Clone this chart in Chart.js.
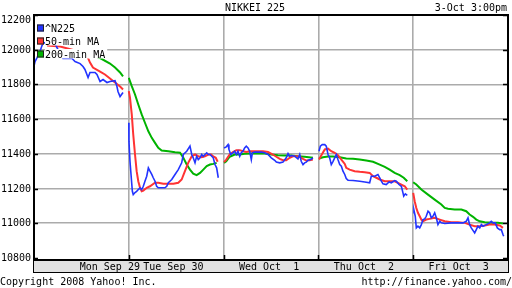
<!DOCTYPE html>
<html>
<head>
<meta charset="utf-8">
<script src="https://cdn.jsdelivr.net/npm/chart.js@4.4.0/dist/chart.umd.min.js"></script>
<style>
body { margin: 0; background: #fff; }
canvas { display: block; }
</style>
</head>
<body>
<canvas id="nikkeiChart" width="512" height="288"></canvas>
<script>
const dayLabels = ['Mon Sep 29', 'Tue Sep 30', 'Wed Oct  1', 'Thu Oct  2', 'Fri Oct  3'];
const yTicks = [10800, 11000, 11200, 11400, 11600, 11800, 12000, 12200];
const seriesNames = ['^N225', '50-min MA', '200-min MA'];

// Tokyo clock hours, one sub-array per trading day
const n225Hours = [
    [9.00, 9.07, 9.20, 9.41, 9.54, 9.61, 9.95, 10.28, 10.62, 10.96, 11.57, 11.77, 12.11, 12.31, 12.44, 12.65, 12.78, 13.12, 13.25, 13.46, 13.66, 13.93, 14.13, 14.47, 14.60, 14.67, 14.81, 15.01],
    [9.00, 9.01, 9.08, 9.15, 9.24, 9.30, 9.42, 9.53, 9.64, 9.76, 9.87, 9.98, 10.09, 10.21, 10.32, 10.43, 10.55, 10.65, 10.77, 10.88, 10.99, 11.22, 11.44, 11.56, 11.67, 11.90, 12.12, 12.34, 12.57, 12.68, 12.91, 13.13, 13.25, 13.35, 13.47, 13.58, 13.69, 13.81, 13.92, 14.03, 14.14, 14.26, 14.37, 14.48, 14.60, 14.70, 14.82, 14.93, 15.04],
    [9.03, 9.18, 9.30, 9.36, 9.48, 9.63, 9.75, 9.86, 9.97, 10.09, 10.19, 10.31, 10.42, 10.53, 10.65, 10.76, 10.87, 10.94, 11.10, 11.32, 11.54, 11.77, 12.00, 12.22, 12.45, 12.56, 12.79, 13.01, 13.23, 13.35, 13.46, 13.57, 13.80, 14.02, 14.14, 14.24, 14.36, 14.47, 14.58, 14.70, 14.88, 15.03],
    [9.04, 9.13, 9.26, 9.43, 9.53, 9.65, 9.76, 9.87, 9.99, 10.10, 10.21, 10.32, 10.44, 10.55, 10.66, 10.78, 10.88, 11.00, 11.34, 11.79, 12.13, 12.46, 12.57, 12.80, 13.02, 13.14, 13.25, 13.36, 13.58, 13.77, 13.92, 14.15, 14.26, 14.44, 14.60, 14.71, 14.76, 14.87, 15.00],
    [9.00, 9.05, 9.14, 9.21, 9.32, 9.44, 9.55, 9.66, 9.78, 9.88, 10.00, 10.11, 10.22, 10.33, 10.45, 10.56, 10.67, 10.79, 10.90, 11.13, 11.57, 12.02, 12.36, 12.58, 12.70, 12.81, 12.92, 13.15, 13.26, 13.37, 13.49, 13.60, 13.71, 13.93, 14.16, 14.27, 14.39, 14.54, 14.68, 14.84, 14.95, 15.06, 15.11]
];
const n225Values = [
    [11905, 11932, 11953, 11991, 12024, 12036, 12048, 12059, 12001, 11949, 11949, 11932, 11920, 11903, 11886, 11840, 11869, 11869, 11857, 11817, 11828, 11811, 11817, 11822, 11788, 11759, 11730, 11753],
    [11579, 11473, 11357, 11281, 11184, 11165, 11177, 11184, 11194, 11204, 11194, 11213, 11242, 11271, 11319, 11300, 11281, 11262, 11242, 11213, 11204, 11204, 11204, 11213, 11233, 11252, 11281, 11309, 11348, 11396, 11415, 11444, 11396, 11377, 11348, 11386, 11367, 11377, 11396, 11386, 11396, 11406, 11396, 11396, 11386, 11377, 11338, 11319, 11262],
    [11434, 11440, 11453, 11425, 11396, 11406, 11415, 11396, 11415, 11386, 11406, 11415, 11434, 11444, 11434, 11415, 11367, 11406, 11410, 11410, 11410, 11406, 11396, 11377, 11363, 11352, 11348, 11352, 11377, 11402, 11386, 11390, 11386, 11371, 11396, 11357, 11338, 11348, 11352, 11363, 11367, 11377],
    [11415, 11444, 11453, 11453, 11444, 11396, 11377, 11338, 11357, 11377, 11396, 11367, 11338, 11329, 11300, 11281, 11258, 11248, 11246, 11242, 11238, 11233, 11271, 11271, 11281, 11262, 11242, 11227, 11223, 11238, 11233, 11246, 11242, 11223, 11213, 11175, 11156, 11169, 11161],
    [11060, 11075, 11040, 10973, 10983, 10973, 10992, 11021, 11025, 11040, 11069, 11060, 11031, 11040, 11060, 11031, 10992, 11011, 11002, 10998, 11002, 11002, 11002, 11011, 11031, 10992, 10973, 10944, 10963, 10983, 10973, 10992, 10983, 10992, 11002, 11011, 11002, 11002, 10973, 10963, 10963, 10935, 10925]
];

const ma50Hours = [
    [9.88, 10.76, 11.77, 12.58, 12.78, 12.98, 13.46, 13.79, 14.13, 14.47, 14.81, 15.01],
    [9.00, 9.08, 9.20, 9.30, 9.42, 9.53, 9.64, 9.76, 9.87, 9.98, 10.21, 10.43, 10.77, 10.99, 11.33, 11.67, 12.01, 12.34, 12.57, 12.79, 13.01, 13.25, 13.47, 13.69, 13.92, 14.14, 14.37, 14.55, 14.70, 14.87, 15.00],
    [9.03, 9.18, 9.41, 9.63, 9.86, 10.09, 10.31, 10.53, 10.76, 10.98, 11.32, 11.66, 12.00, 12.33, 12.56, 12.79, 13.01, 13.23, 13.46, 13.68, 13.91, 14.14, 14.36, 14.58, 14.81, 15.03],
    [9.04, 9.20, 9.43, 9.65, 9.87, 10.10, 10.32, 10.55, 10.78, 10.88, 11.11, 11.45, 11.79, 12.13, 12.46, 12.69, 12.91, 13.14, 13.48, 13.81, 14.15, 14.37, 14.60, 14.83, 15.00],
    [9.00, 9.10, 9.21, 9.32, 9.44, 9.55, 9.66, 9.88, 10.11, 10.45, 10.79, 11.13, 11.57, 12.02, 12.48, 12.81, 13.15, 13.49, 13.83, 14.16, 14.50, 14.84, 15.06]
];
const ma50Values = [
    [12024, 12018, 11995, 11966, 11926, 11897, 11874, 11857, 11834, 11811, 11788, 11771],
    [11761, 11723, 11627, 11511, 11396, 11300, 11242, 11204, 11184, 11188, 11204, 11213, 11233, 11233, 11227, 11227, 11227, 11233, 11252, 11300, 11348, 11386, 11396, 11386, 11380, 11386, 11396, 11396, 11386, 11377, 11354],
    [11352, 11367, 11396, 11410, 11421, 11421, 11415, 11410, 11415, 11415, 11415, 11415, 11410, 11396, 11383, 11371, 11363, 11363, 11377, 11386, 11386, 11383, 11371, 11361, 11363, 11367],
    [11367, 11392, 11425, 11430, 11415, 11406, 11392, 11367, 11342, 11319, 11309, 11300, 11296, 11294, 11290, 11271, 11262, 11252, 11242, 11242, 11242, 11233, 11223, 11213, 11194],
    [11175, 11127, 11088, 11060, 11040, 11021, 11011, 11021, 11025, 11031, 11021, 11011, 11006, 11006, 11002, 10992, 10983, 10983, 10987, 10992, 10992, 10987, 10973]
];

const ma200Hours = [
    [10.08, 11.43, 12.78, 13.46, 14.13, 14.47, 14.81, 15.01],
    [9.00, 9.20, 9.42, 9.64, 9.87, 10.09, 10.32, 10.55, 10.77, 10.99, 11.22, 11.67, 12.12, 12.46, 12.68, 12.91, 13.13, 13.35, 13.58, 13.81, 14.03, 14.26, 14.48, 14.70, 14.93],
    [9.03, 9.18, 9.41, 9.75, 10.09, 10.42, 10.87, 11.32, 11.77, 12.22, 12.67, 13.12, 13.57, 14.02, 14.47, 15.03],
    [9.04, 9.31, 9.65, 9.99, 10.44, 10.88, 11.34, 11.79, 12.23, 12.69, 13.14, 13.48, 13.81, 14.15, 14.49, 14.76, 15.00],
    [9.00, 9.21, 9.55, 10.00, 10.45, 10.90, 11.13, 11.35, 11.80, 12.25, 12.58, 12.81, 13.04, 13.26, 13.49, 13.83, 14.27, 14.72, 15.06]
];
const ma200Values = [
    [11988, 11980, 11970, 11952, 11920, 11897, 11869, 11846],
    [11838, 11790, 11742, 11684, 11627, 11579, 11530, 11492, 11463, 11434, 11419, 11415, 11409, 11406, 11377, 11338, 11309, 11286, 11277, 11290, 11309, 11329, 11338, 11342, 11348],
    [11348, 11357, 11383, 11396, 11396, 11400, 11402, 11402, 11402, 11396, 11392, 11390, 11390, 11386, 11383, 11377],
    [11373, 11380, 11384, 11384, 11380, 11373, 11371, 11367, 11361, 11354, 11338, 11325, 11309, 11290, 11277, 11262, 11242],
    [11236, 11223, 11194, 11165, 11136, 11108, 11088, 11083, 11079, 11079, 11069, 11050, 11037, 11021, 11011, 11006, 11002, 11002, 10998]
];

const seriesColors = ['#2233ff', '#ff3333', '#00b300'];
const FONT = '10px "DejaVu Sans Mono", monospace';

// each day slot on the axis runs 9:00 to 15:24
function buildPoints(hours, values) {
    const pts = [];
    hours.forEach((day, d) => {
        day.forEach((h, i) => pts.push({ x: d + (h - 9) / 6.4, y: values[d][i] }));
        pts.push({ x: d + 0.97, y: null });
    });
    return pts;
}

const yahooDecor = {
    id: 'yahooDecor',
    beforeDraw(chart) {
        const ctx = chart.ctx;
        ctx.save();
        ctx.fillStyle = '#fff';
        ctx.fillRect(0, 0, chart.width, chart.height);
        ctx.restore();
    },
    afterDatasetsDraw(chart) {
        // legend, white behind the text rows
        const ctx = chart.ctx;
        ctx.save();
        ctx.font = FONT;
        ctx.textBaseline = 'middle';
        seriesNames.forEach((name, i) => {
            const cy = 27.5 + i * 13;
            const w = ctx.measureText(name).width;
            ctx.fillStyle = '#fff';
            ctx.fillRect(45, cy - 4.5, w + 2, 9.5);
            ctx.fillStyle = seriesColors[i];
            ctx.fillRect(37, cy - 3, 7, 7);
            ctx.strokeStyle = '#222';
            ctx.lineWidth = 1;
            ctx.strokeRect(37.5, cy - 2.5, 6, 6);
            ctx.fillStyle = '#000';
            ctx.fillText(name, 45, cy + 1.5);
        });
        ctx.restore();
    },
    afterDraw(chart) {
        const ctx = chart.ctx;
        const { left, right, top, bottom } = chart.chartArea;
        const xs = chart.scales.x, ys = chart.scales.y;
        ctx.save();

        // date band under the plot
        ctx.fillStyle = '#e2e2e2';
        ctx.fillRect(left, bottom, right - left, 12.5);
        ctx.strokeStyle = '#000';
        ctx.lineWidth = 1;
        ctx.strokeRect(left - 0.5, bottom + 0.5, right - left + 1, 12);

        // frame
        ctx.lineWidth = 2;
        ctx.strokeRect(left, top, right - left, bottom - top);

        // tick marks inside the frame
        ctx.lineWidth = 1.5;
        ctx.beginPath();
        yTicks.forEach(v => {
            const y = Math.round(ys.getPixelForValue(v)) + 0.5;
            ctx.moveTo(left, y); ctx.lineTo(left + 4, y);
            ctx.moveTo(right - 5, y); ctx.lineTo(right, y);
        });
        [1, 2, 3, 4].forEach(d => {
            const x = Math.round(xs.getPixelForValue(d)) + 0.5;
            ctx.moveTo(x, bottom); ctx.lineTo(x, bottom - 5);
        });
        ctx.stroke();

        ctx.font = FONT;
        ctx.fillStyle = '#000';
        ctx.textBaseline = 'middle';

        // value labels
        ctx.textAlign = 'right';
        yTicks.forEach(v => {
            const y = Math.max(ys.getPixelForValue(v), 20);
            ctx.fillText(String(v), 31, y + 0.5);
        });

        // day labels
        const labelAt = [0.8, 1.47, 2.48, 3.48, 4.48];
        ctx.textAlign = 'center';
        dayLabels.forEach((lab, d) => {
            ctx.fillText(lab, xs.getPixelForValue(labelAt[d]), bottom + 7);
        });

        // title and footer
        ctx.fillText('NIKKEI 225', 255, 8);
        ctx.textAlign = 'right';
        ctx.fillText('3-Oct 3:00pm', 507, 8);
        ctx.fillText('http://finance.yahoo.com/', 512, 282);
        ctx.textAlign = 'left';
        ctx.fillText('Copyright 2008 Yahoo! Inc.', 0, 282);
        ctx.restore();
    }
};

new Chart(document.getElementById('nikkeiChart'), {
    type: 'line',
    data: {
        datasets: [
            { label: seriesNames[0], data: buildPoints(n225Hours, n225Values), borderColor: seriesColors[0], borderWidth: 1.6 },
            { label: seriesNames[1], data: buildPoints(ma50Hours, ma50Values), borderColor: seriesColors[1], borderWidth: 2 },
            { label: seriesNames[2], data: buildPoints(ma200Hours, ma200Values), borderColor: seriesColors[2], borderWidth: 2 }
        ]
    },
    options: {
        responsive: false,
        animation: false,
        events: [],
        spanGaps: false,
        layout: { padding: { left: 34, right: 4, top: 15, bottom: 28 } },
        elements: { point: { radius: 0 }, line: { tension: 0 } },
        plugins: { legend: { display: false }, tooltip: { enabled: false } },
        scales: {
            x: {
                type: 'linear', min: 0, max: 5,
                afterBuildTicks: s => { s.ticks = [1, 2, 3, 4].map(v => ({ value: v })); },
                afterFit: s => { s.height = 0; },
                ticks: { display: false },
                grid: { color: '#ababab', lineWidth: 1.6, drawTicks: false },
                border: { display: false }
            },
            y: {
                min: 10788, max: 12200,
                afterBuildTicks: s => { s.ticks = yTicks.map(v => ({ value: v })); },
                afterFit: s => { s.width = 0; },
                ticks: { display: false },
                grid: {
                    color: c => (c.tick && c.tick.value === 10800 ? 'rgba(0,0,0,0)' : '#ababab'),
                    lineWidth: 1.6, drawTicks: false
                },
                border: { display: false }
            }
        }
    },
    plugins: [yahooDecor]
});
</script>
</body>
</html>
